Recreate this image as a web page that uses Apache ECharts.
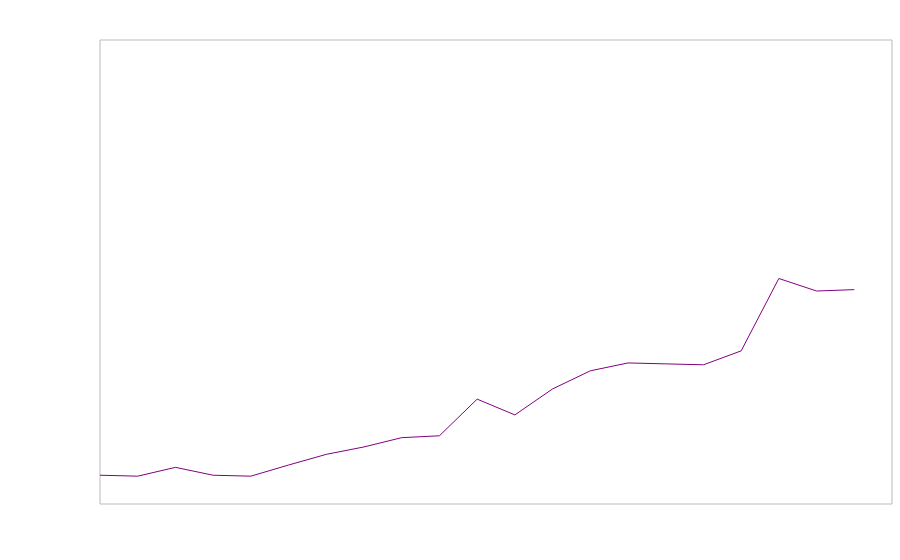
<!DOCTYPE html>
<html>
<head>
<meta charset="utf-8">
<script src="https://cdn.jsdelivr.net/npm/echarts@6/dist/echarts.min.js"></script>
<style>
  html, body { margin: 0; padding: 0; background: #fff; }
  #chart { width: 900px; height: 560px; }
</style>
</head>
<body>
<div id="chart"></div>
<script>
// 数据部分
var years = [2000, 2001, 2002, 2003, 2004, 2005, 2006, 2007, 2008, 2009, 2010,
             2011, 2012, 2013, 2014, 2015, 2016, 2017, 2018, 2019, 2020];
var values = [6.2, 6.0, 7.9, 6.2, 6.0, 8.4, 10.7, 12.3, 14.3, 14.7, 22.6,
              19.2, 24.8, 28.7, 30.4, 30.2, 30.0, 33.0, 48.6, 45.9, 46.2];

var chart = echarts.init(document.getElementById('chart'));

var option = {
    animation: false,
    grid: {
        left: 100,
        right: 8,
        top: 40,
        bottom: 56,
        show: true,
        borderColor: '#bbb',
        borderWidth: 1
    },
    xAxis: {
        type: 'value',
        min: 2000,
        max: 2021,
        show: false
    },
    yAxis: {
        type: 'value',
        min: 0,
        max: 100,
        show: false
    },
    series: [{
        type: 'line',
        data: years.map(function (y, i) { return [y, values[i]]; }),
        showSymbol: false,
        lineStyle: { color: '#800080', width: 1 },
        itemStyle: { color: '#800080' }
    }]
};

chart.setOption(option);
</script>
</body>
</html>
